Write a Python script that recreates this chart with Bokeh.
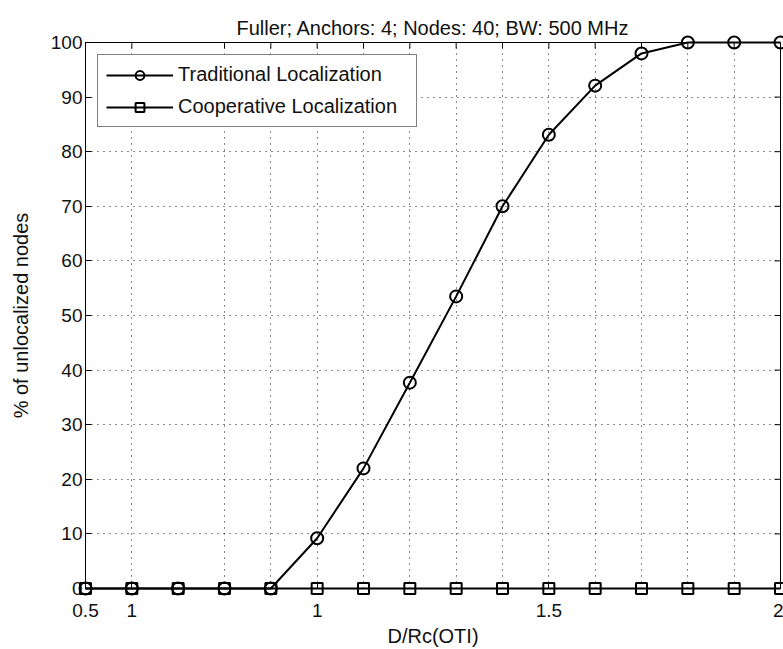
import math
from bokeh.plotting import figure
from bokeh.models import FixedTicker, Legend, LegendItem, Range1d
from bokeh.embed import file_html
from bokeh.resources import INLINE

# ---- data ----
x_values = [0.5, 0.6, 0.7, 0.8, 0.9, 1.0, 1.1, 1.2, 1.3, 1.4, 1.5, 1.6, 1.7, 1.8, 1.9, 2.0]
traditional = [0, 0, 0, 0, 0, 9.2, 22.0, 37.7, 53.5, 70.0, 83.1, 92.1, 98.0, 100, 100, 100]
cooperative = [0, 0, 0, 0, 0, 0, 0, 0, 0, 0, 0, 0, 0, 0, 0, 0]

series_names = ["Traditional Localization", "Cooperative Localization"]

x_ticks = [0.5, 0.6, 0.8, 0.9, 1.0, 1.1, 1.2, 1.3, 1.4, 1.5, 1.6, 1.7, 1.8, 1.9, 2.0]
x_tick_labels = ["0.5", "1", "", "", "1", "", "", "", "", "1.5", "", "", "", "", "2"]
y_ticks = [0, 10, 20, 30, 40, 50, 60, 70, 80, 90, 100]
y_tick_labels = ["0", "10", "20", "30", "40", "50", "60", "70", "80", "90", "100"]

title_text = "Fuller; Anchors: 4; Nodes: 40; BW: 500 MHz"
x_label = "D/Rc(OTI)"
y_label = "% of unlocalized nodes"

FONT = "Liberation Sans"
TXT = "#111111"

x_min, x_max = x_ticks[0], x_ticks[-1]
y_min, y_max = y_ticks[0], y_ticks[-1]

p = figure(width=783, height=649, output_backend="svg", toolbar_location=None,
           x_range=Range1d(x_min, x_max), y_range=Range1d(y_min, y_max),
           min_border_left=85, min_border_right=3, min_border_top=42, min_border_bottom=61,
           background_fill_color="white", border_fill_color="white")

p.outline_line_color = "black"
p.outline_line_width = 1
p.outline_line_alpha = 1

p.title.text = title_text
p.title.align = "center"
p.title.vertical_align = "top"
p.title.text_font = FONT
p.title.text_font_size = "20px"
p.title.text_font_style = "normal"
p.title.text_color = TXT
p.title.text_line_height = 1.0
p.title.standoff = 4

def style_axis(ax):
    ax.major_tick_in = 6
    ax.major_tick_out = 0
    ax.minor_tick_in = 0
    ax.minor_tick_out = 0
    ax.axis_line_color = "black"
    ax.major_tick_line_color = "black"
    ax.major_label_text_font = FONT
    ax.major_label_text_color = TXT
    ax.major_label_text_font_size = "19px"
    ax.axis_label_text_font = FONT
    ax.axis_label_text_font_size = "20px"
    ax.axis_label_text_font_style = "normal"
    ax.axis_label_text_color = TXT

labeled = [(t, l) for t, l in zip(x_ticks, x_tick_labels) if l]
xaxis = p.xaxis[0]
xaxis.ticker = FixedTicker(ticks=[t for t, _ in labeled])
xaxis.major_label_overrides = dict(labeled)
xaxis.axis_label = x_label
style_axis(xaxis)
xaxis.major_label_text_line_height = 1.0
xaxis.axis_label_text_line_height = 1.0
xaxis.major_label_standoff = 15
xaxis.axis_label_standoff = 5

yaxis = p.yaxis[0]
yaxis.ticker = FixedTicker(ticks=y_ticks)
yaxis.major_label_overrides = dict(zip(y_ticks, y_tick_labels))
yaxis.axis_label = y_label
style_axis(yaxis)
yaxis.major_label_standoff = 3
yaxis.axis_label_standoff = 16

p.xgrid.ticker = FixedTicker(ticks=x_ticks[1:-1])
p.ygrid.ticker = FixedTicker(ticks=y_ticks[1:-1])
for g in (p.xgrid[0], p.ygrid[0]):
    g.grid_line_color = "black"
    g.grid_line_dash = "1 5"
    g.grid_line_width = 1
    g.grid_line_alpha = 0.9

# inside ticks along the top and right edges of the box (outer half is clipped by the frame)
p.scatter([x for x in x_ticks], [y_max] * len(x_ticks), marker="dash", angle=math.pi / 2,
          size=12, line_color="black", line_width=1)
p.scatter([x_max] * len(y_ticks), [y for y in y_ticks], marker="dash",
          size=12, line_color="black", line_width=1)

# series (drawn at annotation level so that markers on the box edges are not clipped)
l_trad = p.line(x_values, traditional, line_color="black", line_width=2, level="annotation")
m_trad = p.scatter(x_values, traditional, marker="circle", size=12,
                   line_color="black", line_width=2, fill_color=None, level="annotation")
l_coop = p.line(x_values, cooperative, line_color="black", line_width=2, level="annotation")
m_coop = p.scatter(x_values, cooperative, marker="square", size=11,
                   line_color="black", line_width=2, fill_color=None, level="annotation")

legend = Legend(items=[LegendItem(label=series_names[0], renderers=[l_trad, m_trad]),
                       LegendItem(label=series_names[1], renderers=[l_coop, m_coop])],
                location="top_left")
legend.margin = 12
legend.padding = 8
legend.spacing = 9
legend.glyph_width = 67
legend.glyph_height = 22
legend.label_standoff = 5
legend.label_width = 230
legend.label_text_font = FONT
legend.label_text_font_size = "20px"
legend.label_text_color = TXT
legend.border_line_color = "black"
legend.border_line_width = 1
legend.background_fill_color = "white"
legend.background_fill_alpha = 1
p.add_layout(legend, "center")

open("out.html", "w").write(file_html(p, INLINE))
